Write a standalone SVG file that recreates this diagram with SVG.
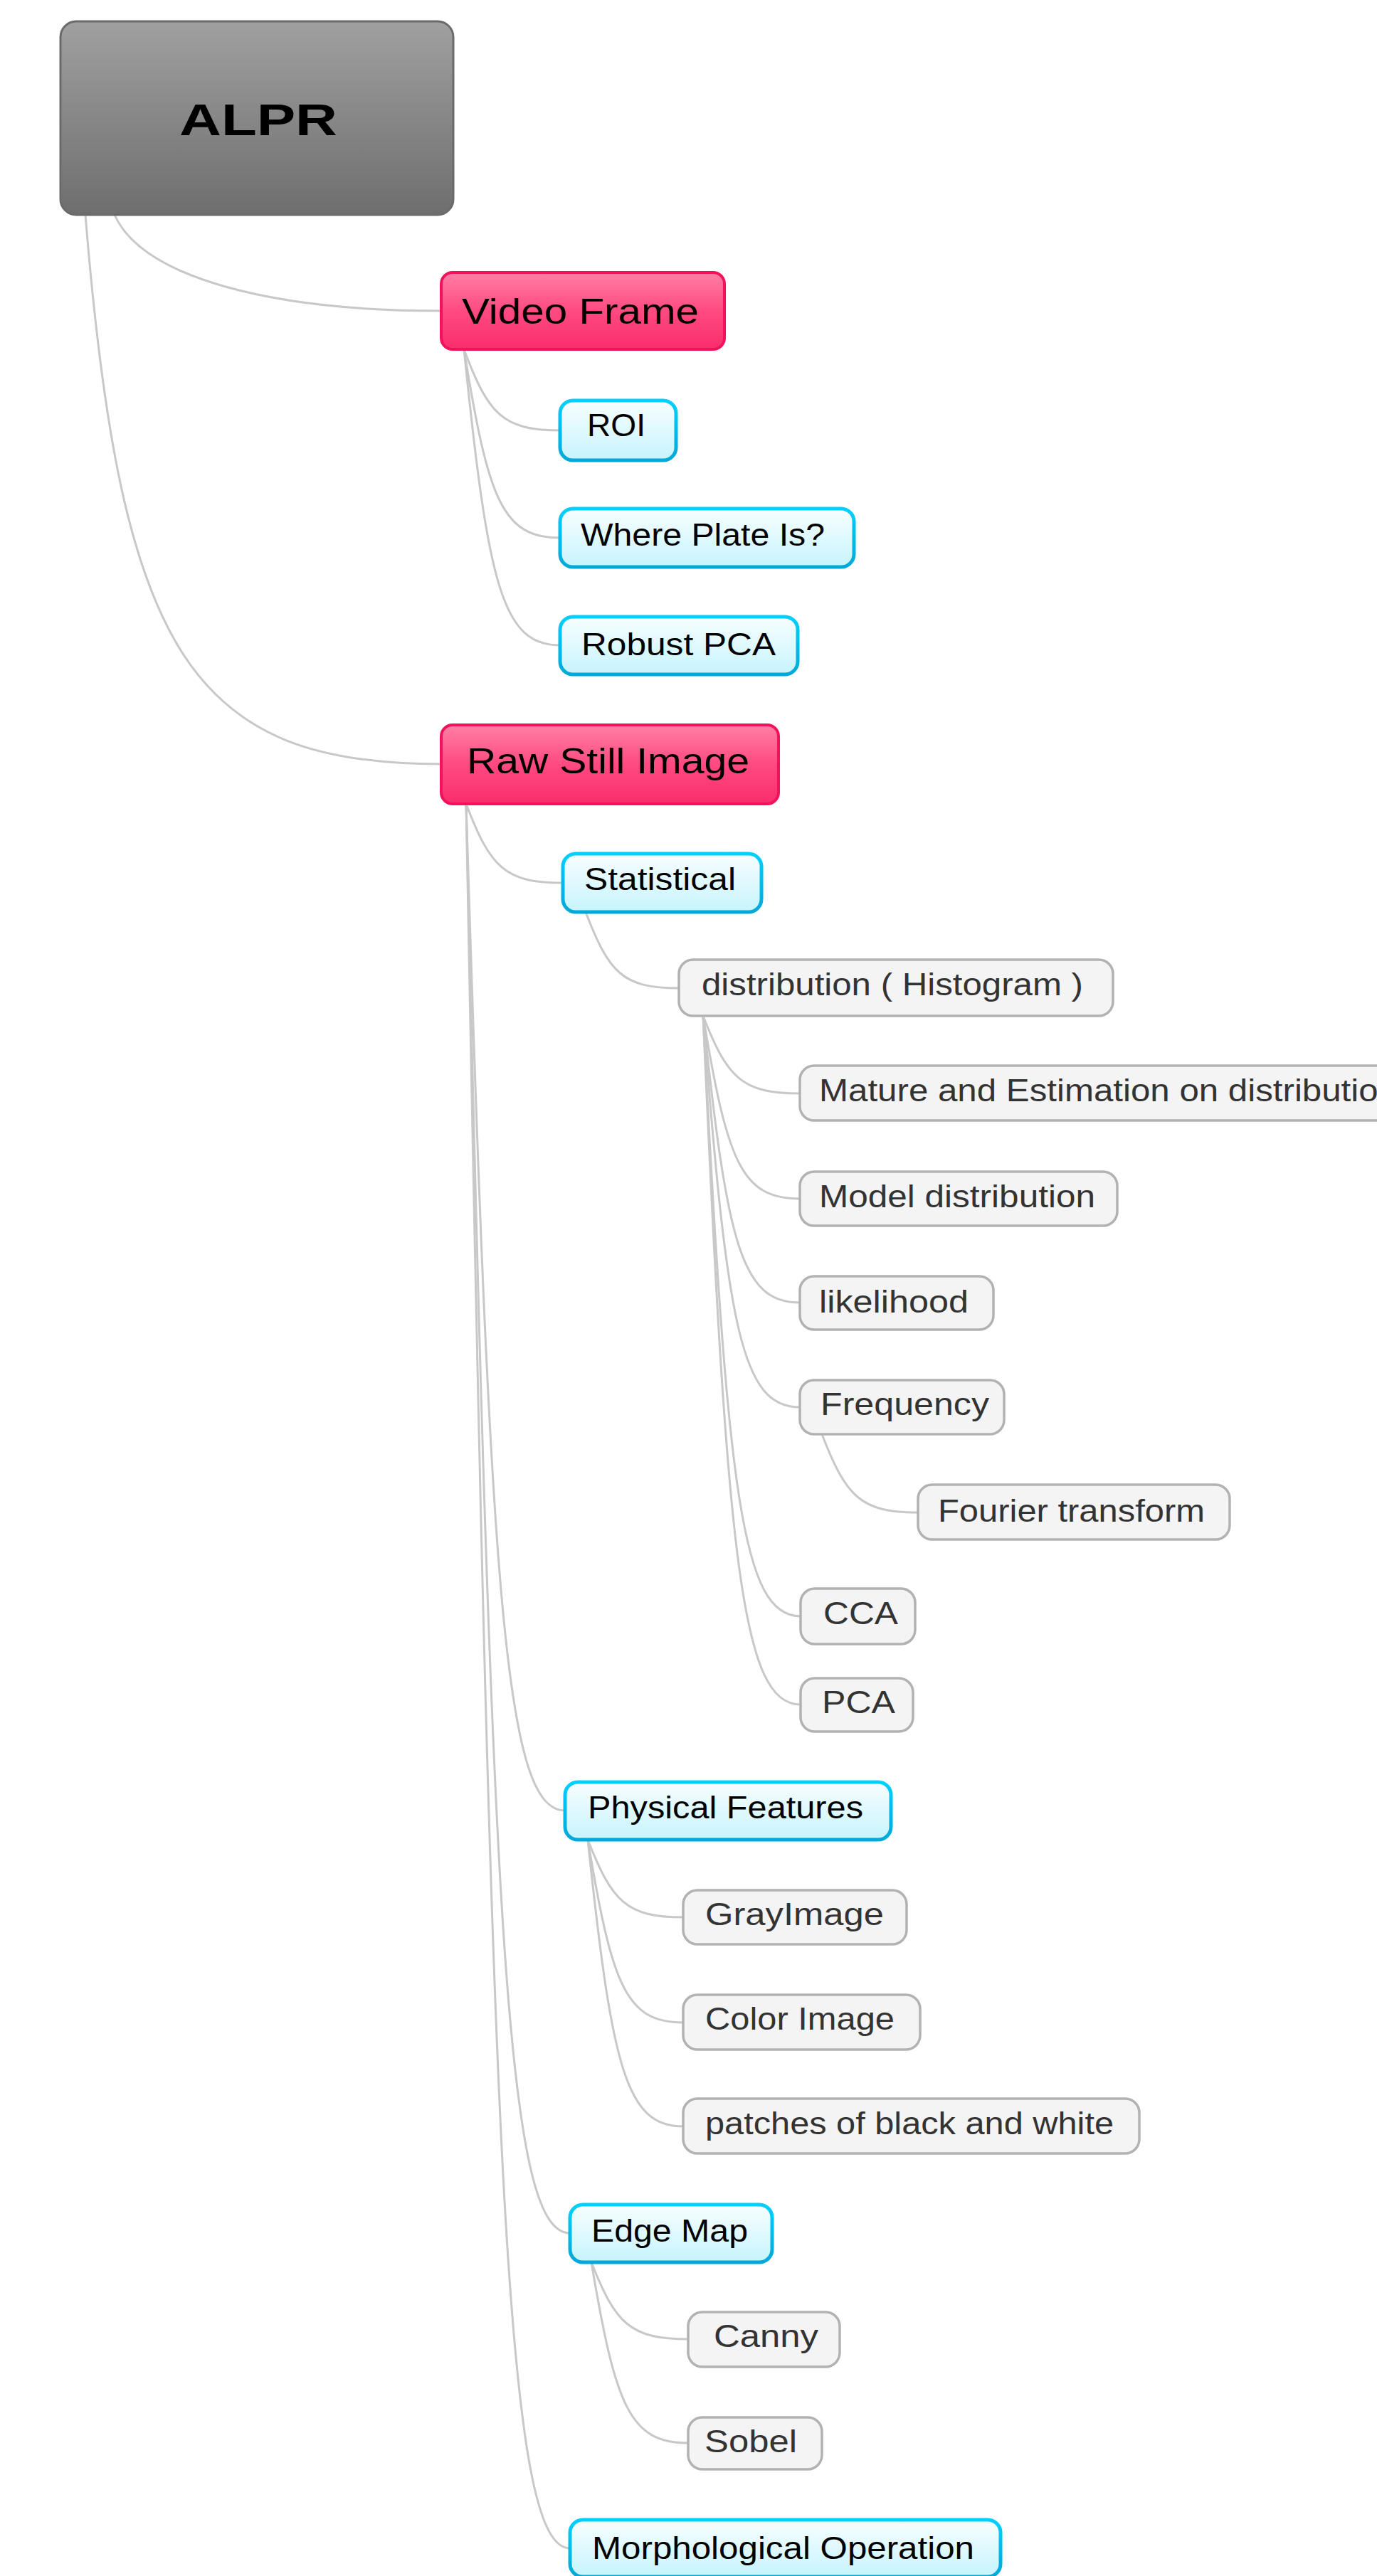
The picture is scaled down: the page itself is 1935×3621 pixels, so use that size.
<svg xmlns="http://www.w3.org/2000/svg" width="1935" height="3621" viewBox="0 0 1935 3621">
<defs>
<linearGradient id="gRoot" x1="0" y1="0" x2="0" y2="1"><stop offset="0" stop-color="#a0a0a0"/><stop offset="1" stop-color="#6e6e6e"/></linearGradient>
<linearGradient id="gPink" x1="0" y1="0" x2="0" y2="1"><stop offset="0" stop-color="#ff7fa4"/><stop offset="0.5" stop-color="#ff4a80"/><stop offset="1" stop-color="#f92d6c"/></linearGradient>
<linearGradient id="gBlue" x1="0" y1="0" x2="0" y2="1"><stop offset="0" stop-color="#f8feff"/><stop offset="1" stop-color="#c6f4fd"/></linearGradient>
<linearGradient id="sBlue" x1="0" y1="0" x2="0" y2="1"><stop offset="0" stop-color="#00d0ff"/><stop offset="1" stop-color="#00a8d8"/></linearGradient>
<style>
.root rect{fill:url(#gRoot);stroke:#6a6a6a;stroke-width:3}
.pink rect{fill:url(#gPink);stroke:#f2115b;stroke-width:4}
.blue rect{fill:url(#gBlue);stroke:url(#sBlue);stroke-width:5}
.leaf rect{fill:#f4f4f4;stroke:#b2b2b2;stroke-width:3.5}
text{font-family:"Liberation Sans",Arial,sans-serif;}
.root text{font-size:63px;font-weight:bold;fill:#000}
.pink text{font-size:50px;fill:#000}
.blue text{font-size:44px;fill:#000}
.leaf text{font-size:44px;fill:#333}
#connectors path{fill:none;stroke:#c8c8c8;stroke-width:3}
</style>
</defs>
<rect width="1935" height="3621" fill="#ffffff"/>
<g id="connectors">
<path d="M161,302 C200,390 380,437 620,437"/>
<path d="M120,302 C170,920 270,1074 620,1074"/>
<path d="M652,491 C686,582 706,605 787,605"/>
<path d="M652,491 C686,703 706,756 787,756"/>
<path d="M652,491 C686,824 706,907 787,907"/>
<path d="M655,1130 C689,1219 709,1241 791,1241"/>
<path d="M655,1130 C690,2262 711,2545 794,2545"/>
<path d="M655,1130 C692,2737 713,3139 801,3139"/>
<path d="M655,1130 C692,3092 713,3582 801,3582"/>
<path d="M823,1282 C856,1368 875,1389 954,1389"/>
<path d="M988,1428 C1022,1515 1042,1537 1124,1537"/>
<path d="M988,1428 C1022,1634 1042,1685 1124,1685"/>
<path d="M988,1428 C1022,1750 1042,1831 1124,1831"/>
<path d="M988,1428 C1022,1868 1042,1978 1124,1978"/>
<path d="M988,1428 C1022,2103 1043,2272 1125,2272"/>
<path d="M988,1428 C1022,2202 1043,2396 1125,2396"/>
<path d="M1155,2016 C1189,2104 1209,2126 1290,2126"/>
<path d="M826,2586 C860,2673 880,2695 960,2695"/>
<path d="M826,2586 C860,2792 880,2843 960,2843"/>
<path d="M826,2586 C860,2908 880,2989 960,2989"/>
<path d="M831,3180 C865,3266 885,3288 967,3288"/>
<path d="M831,3180 C865,3383 885,3434 967,3434"/>
</g>
<g id="n-alpr" class="root"><rect x="85" y="30" width="552" height="272" rx="22"/><text x="252" y="190" textLength="222" lengthAdjust="spacingAndGlyphs">ALPR</text></g>
<g id="n-video" class="pink"><rect x="620" y="383" width="398" height="108" rx="16"/><text x="649" y="455" textLength="333" lengthAdjust="spacingAndGlyphs">Video Frame</text></g>
<g id="n-roi" class="blue"><rect x="787" y="563" width="163" height="84" rx="18"/><text x="825" y="613" textLength="82" lengthAdjust="spacingAndGlyphs">ROI</text></g>
<g id="n-where" class="blue"><rect x="787" y="715" width="413" height="82" rx="18"/><text x="816" y="767" textLength="343" lengthAdjust="spacingAndGlyphs">Where Plate Is?</text></g>
<g id="n-robust" class="blue"><rect x="787" y="867" width="334" height="81" rx="18"/><text x="817" y="921" textLength="273" lengthAdjust="spacingAndGlyphs">Robust PCA</text></g>
<g id="n-raw" class="pink"><rect x="620" y="1019" width="474" height="111" rx="16"/><text x="656" y="1087" textLength="397" lengthAdjust="spacingAndGlyphs">Raw Still Image</text></g>
<g id="n-stat" class="blue"><rect x="791" y="1200" width="279" height="82" rx="18"/><text x="821" y="1251" textLength="213" lengthAdjust="spacingAndGlyphs">Statistical</text></g>
<g id="n-dist" class="leaf"><rect x="954" y="1349" width="610" height="79" rx="20"/><text x="986" y="1399" textLength="536" lengthAdjust="spacingAndGlyphs">distribution ( Histogram )</text></g>
<g id="n-mature" class="leaf"><rect x="1124" y="1498" width="900" height="77" rx="20"/><text x="1151" y="1548" textLength="813" lengthAdjust="spacingAndGlyphs">Mature and Estimation on distribution</text></g>
<g id="n-model" class="leaf"><rect x="1124" y="1647" width="446" height="76" rx="20"/><text x="1151" y="1697" textLength="388" lengthAdjust="spacingAndGlyphs">Model distribution</text></g>
<g id="n-likelihood" class="leaf"><rect x="1124" y="1794" width="272" height="75" rx="20"/><text x="1151" y="1845" textLength="210" lengthAdjust="spacingAndGlyphs">likelihood</text></g>
<g id="n-frequency" class="leaf"><rect x="1124" y="1940" width="287" height="76" rx="20"/><text x="1153" y="1989" textLength="237" lengthAdjust="spacingAndGlyphs">Frequency</text></g>
<g id="n-fourier" class="leaf"><rect x="1290" y="2087" width="438" height="77" rx="20"/><text x="1318" y="2139" textLength="375" lengthAdjust="spacingAndGlyphs">Fourier transform</text></g>
<g id="n-cca" class="leaf"><rect x="1125" y="2233" width="161" height="78" rx="20"/><text x="1157" y="2283" textLength="105" lengthAdjust="spacingAndGlyphs">CCA</text></g>
<g id="n-pca" class="leaf"><rect x="1125" y="2359" width="158" height="75" rx="20"/><text x="1155" y="2408" textLength="103" lengthAdjust="spacingAndGlyphs">PCA</text></g>
<g id="n-physical" class="blue"><rect x="794" y="2505" width="458" height="81" rx="18"/><text x="826" y="2556" textLength="387" lengthAdjust="spacingAndGlyphs">Physical Features</text></g>
<g id="n-gray" class="leaf"><rect x="960" y="2657" width="314" height="76" rx="20"/><text x="991" y="2706" textLength="251" lengthAdjust="spacingAndGlyphs">GrayImage</text></g>
<g id="n-color" class="leaf"><rect x="960" y="2804" width="333" height="77" rx="20"/><text x="991" y="2853" textLength="266" lengthAdjust="spacingAndGlyphs">Color Image</text></g>
<g id="n-patches" class="leaf"><rect x="960" y="2950" width="641" height="77" rx="20"/><text x="991" y="3000" textLength="574" lengthAdjust="spacingAndGlyphs">patches of black and white</text></g>
<g id="n-edge" class="blue"><rect x="801" y="3099" width="284" height="81" rx="18"/><text x="831" y="3151" textLength="220" lengthAdjust="spacingAndGlyphs">Edge Map</text></g>
<g id="n-canny" class="leaf"><rect x="967" y="3250" width="213" height="77" rx="20"/><text x="1003" y="3299" textLength="147" lengthAdjust="spacingAndGlyphs">Canny</text></g>
<g id="n-sobel" class="leaf"><rect x="967" y="3398" width="188" height="73" rx="20"/><text x="990" y="3447" textLength="130" lengthAdjust="spacingAndGlyphs">Sobel</text></g>
<g id="n-morph" class="blue"><rect x="801" y="3542" width="605" height="80" rx="18"/><text x="832" y="3597" textLength="537" lengthAdjust="spacingAndGlyphs">Morphological Operation</text></g>
</svg>
